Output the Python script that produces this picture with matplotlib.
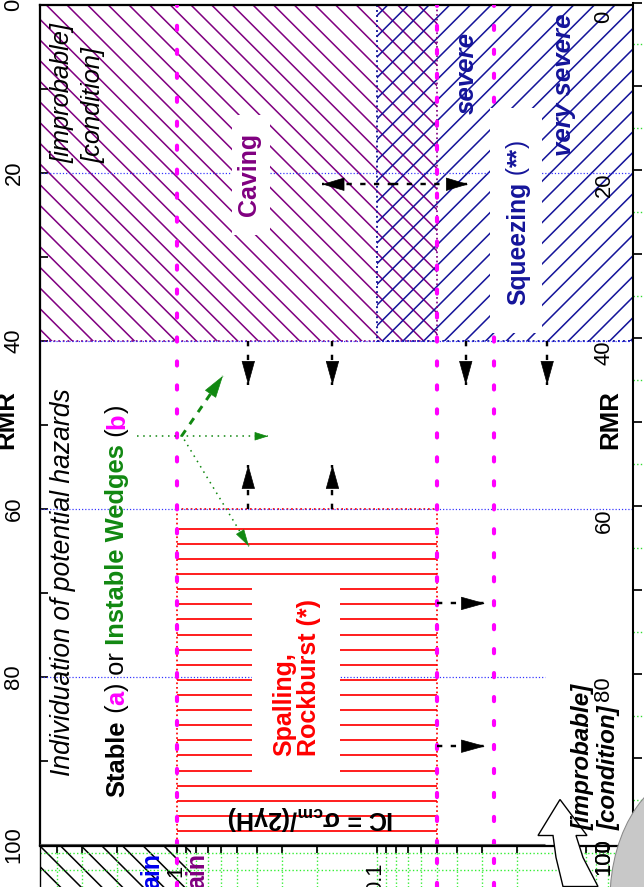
import numpy as np
import matplotlib
matplotlib.use("Agg")
from matplotlib import pyplot as plt
from matplotlib import transforms as mtrans
from matplotlib.patches import Rectangle, Ellipse, Polygon
from matplotlib.ticker import NullLocator

W, H = 644, 887
DPI = 124
FW, FH = W + 0.5, H + 0.5

# ---- values ----
rmr_major = [0, 20, 40, 60, 80, 100]
rmr_minor = [10, 30, 50, 70, 90]
ic_range = [4.84, 0.00525]          # IC = sigma_cm/(2 gamma H), log scale, decreasing to the right
ic_range_strip = [4.84, 0.00462]

caving_ic = [4.84, 0.05]
caving_rmr = [0, 40]
squeezing_ic = [0.1, 0.00525]
squeezing_rmr = [0, 40]
spalling_ic = [1.0, 0.05]
spalling_rmr = [60, 100]
limit_ic = [1.0, 0.05, 0.026]
grid_rmr = [20, 40, 60, 80]
grid_ic_end = [0.00525, 0.00525, 0.00525, 0.0145]

# black arrows (tail -> tip)
down_ic = [0.44, 0.167, 0.036, 0.0141]
down_rmr = [40, 45.3]
up_ic = [0.44, 0.167]
up_rmr = [60, 54.8]
right_rmr = [71.3, 88.3]
right_ic = [0.05, 0.0288]
both_rmr = 21.4
both_ic = [0.083, 0.188, 0.035]     # centre, left tip, right tip

# green arrows of the wedge label
green_tail = [(1.585, 51.4), (0.95, 51.4), (0.92, 51.8)]
green_tip = [(0.35, 51.4), (0.589, 44.2), (0.437, 64.5)]

plt.rcParams['font.family'] = ['Liberation Sans', 'DejaVu Sans']
plt.rcParams['hatch.linewidth'] = 0.9
plt.rcParams['mathtext.fontset'] = 'custom'
plt.rcParams['mathtext.rm'] = 'Liberation Sans:bold'
plt.rcParams['mathtext.it'] = 'Liberation Sans:bold'
plt.rcParams['mathtext.bf'] = 'Liberation Sans:bold'

PURPLE = '#800080'
NAVY = '#14149a'
MAGENTA = '#ff00ff'
GREEN = '#118811'


def fpos(x, y):
    # image pixel -> figure fraction
    return x / FW, 1 - y / FH


fig = plt.figure(figsize=(FW / DPI, FH / DPI), dpi=DPI)
renderer = fig.canvas.get_renderer()

ax = fig.add_axes([40 / FW, 1 - 845 / FH, 593 / FW, 840 / FH])
ax.set_xscale('log')
ax.set_xlim(ic_range)
ax.set_ylim(100, 0)
ax.xaxis.set_major_locator(NullLocator())
ax.xaxis.set_minor_locator(NullLocator())
ax.set_yticks(rmr_major)
ax.set_yticklabels([str(v) for v in rmr_major], rotation=90, va='center')
ax.set_yticks(rmr_minor, minor=True)
ax.tick_params(axis='y', which='both', direction='in', length=4.6, width=1,
               pad=9, labelsize=12.8)
for side in ['left', 'top']:
    ax.spines[side].set_linewidth(1.3)
ax.spines['right'].set_linewidth(1.0)
ax.spines['bottom'].set_visible(False)


def zone(a, ic, rmr, **kw):
    a.add_patch(Rectangle((min(ic), min(rmr)), max(ic) - min(ic), max(rmr) - min(rmr), **kw))


def outline(a, ic, rmr, sides, **kw):
    pts = {'top': ([ic[0], ic[1]], [rmr[0], rmr[0]]),
           'bottom': ([ic[0], ic[1]], [rmr[1], rmr[1]]),
           'left': ([ic[0], ic[0]], [rmr[0], rmr[1]]),
           'right': ([ic[1], ic[1]], [rmr[0], rmr[1]])}
    for s in sides:
        a.plot(*pts[s], **kw)


# hatched zones
zone(ax, caving_ic, caving_rmr, facecolor='none', edgecolor=PURPLE, hatch='\\\\', linewidth=0, zorder=1)
zone(ax, squeezing_ic, squeezing_rmr, facecolor='none', edgecolor=NAVY, hatch='//', linewidth=0, zorder=1)
outline(ax, caving_ic, caving_rmr, ['top', 'bottom', 'left', 'right'], color=PURPLE, ls=':', lw=1, zorder=2)
outline(ax, squeezing_ic, squeezing_rmr, ['top', 'bottom', 'left'], color=NAVY, ls=':', lw=1.1, zorder=2)

red_rows = np.arange(spalling_rmr[0] + 2.4, spalling_rmr[1] + 0.5, 1.8)
ax.hlines(red_rows, spalling_ic[0], spalling_ic[1], color='red', lw=1.0, zorder=1)
outline(ax, spalling_ic, spalling_rmr, ['top', 'left', 'right'], color='red', ls=':', lw=1, zorder=2)

for r, e in zip(grid_rmr, grid_ic_end):
    ax.plot([ic_range[0], e], [r, r], color='#3030ff', ls=':', lw=0.7, zorder=2)

for v in limit_ic:
    ax.axvline(v, color=MAGENTA, lw=2.4, dashes=(1.0, 4.8), dash_capstyle='round', zorder=3)

ax.hlines(100, ic_range[0], grid_ic_end[-1], color='#666666', lw=1.8, clip_on=False, zorder=3)


def arrow(a, tail, tip, color, lw, dashes, hl, hw):
    a.plot([tail[0], tip[0]], [tail[1], tip[1]], color=color, lw=lw, dashes=dashes, zorder=6)
    p0 = a.transData.transform(tail)
    p1 = a.transData.transform(tip)
    d = (p1 - p0) / np.hypot(*(p1 - p0))
    a.annotate('', xy=tip, xytext=(-d[0] * hl, -d[1] * hl), textcoords='offset points',
               arrowprops=dict(arrowstyle=f'-|>,head_length={hl},head_width={hw}',
                               color=color, lw=0.4, shrinkA=0, shrinkB=0, mutation_scale=1),
               zorder=7)


for ic in down_ic:
    arrow(ax, (ic, down_rmr[0]), (ic, down_rmr[1]), 'black', 1.4, (2.2, 3.5), 13, 3.6)
for ic in up_ic:
    arrow(ax, (ic, up_rmr[0]), (ic, up_rmr[1]), 'black', 1.4, (2.2, 3.5), 13, 3.6)
for r in right_rmr:
    arrow(ax, (right_ic[0], r), (right_ic[1], r), 'black', 1.4, (2.2, 3.5), 13, 3.6)
arrow(ax, (both_ic[0], both_rmr), (both_ic[1], both_rmr), 'black', 1.4, (2.2, 3.5), 12, 3.6)
arrow(ax, (both_ic[0], both_rmr), (both_ic[2], both_rmr), 'black', 1.4, (2.2, 3.5), 12, 3.6)

arrow(ax, green_tail[0], green_tip[0], GREEN, 0.9, (1, 3), 7, 2.2)
arrow(ax, green_tail[1], green_tip[1], GREEN, 1.7, (2.5, 2.5), 12, 3.6)
arrow(ax, green_tail[2], green_tip[2], GREEN, 0.9, (1, 3), 9, 2.5)


def white_box(x0, y0, x1, y1):
    ax.add_patch(Rectangle(fpos(x0, y1), (x1 - x0) / FW, (y1 - y0) / FH, transform=fig.transFigure,
                           facecolor='white', edgecolor='none', zorder=4))


def rich(x, y0, pieces, size, zorder=5):
    # pieces of rotated text, laid end to end going up
    off = 0.0
    base = fig.transFigure
    for s, color, weight in pieces:
        tr = mtrans.offset_copy(base, fig=fig, x=0, y=off, units='dots')
        t = fig.text(*fpos(x, y0), s, rotation=90, ha='center', va='bottom', color=color,
                     fontsize=size, fontweight=weight, transform=tr, zorder=zorder)
        off += t.get_window_extent(renderer).height


white_box(232, 115, 270, 235)
white_box(490, 108, 542, 333)
white_box(252, 580, 340, 775)

fig.text(*fpos(249, 174), 'Caving', rotation=90, ha='center', va='center', color=PURPLE,
         fontsize=14.5, fontweight='bold', zorder=5)
rich(518, 305, [('Squeezing', NAVY, 'bold'), (' (', NAVY, 'normal'), ('**', NAVY, 'bold'),
                (')', NAVY, 'normal')], 14.3)
fig.text(*fpos(467, 73), 'severe', rotation=90, ha='center', va='center', color=NAVY,
         fontsize=15, fontweight='bold', fontstyle='italic', zorder=5)
fig.text(*fpos(564, 85), 'very severe', rotation=90, ha='center', va='center', color=NAVY,
         fontsize=15, fontweight='bold', fontstyle='italic', zorder=5)
fig.text(*fpos(297, 677), 'Spalling,\nRockburst (*)', rotation=90, ha='center', va='center',
         multialignment='left', color='red', fontsize=14.5, fontweight='bold', linespacing=1.05,
         zorder=5)
fig.text(*fpos(78, 163), '[improbable]\n[condition]', rotation=90, ha='center', va='bottom',
         multialignment='left', fontsize=14.8, fontstyle='italic', linespacing=1.4, zorder=5)
fig.text(*fpos(63, 582), 'Individuation of potential hazards', rotation=90, ha='center',
         va='center', fontsize=15.4, fontstyle='italic', zorder=5)
rich(117, 797, [('Stable', 'black', 'bold'), (' (', 'black', 'normal'), ('a', MAGENTA, 'bold'),
                (')', 'black', 'normal'), (' or', 'black', 'normal'),
                (' Instable Wedges', GREEN, 'bold'), (' (', 'black', 'normal'),
                ('b', MAGENTA, 'bold'), (')', 'black', 'normal')], 14.8)
fig.text(*fpos(311, 818), r'IC = $\sigma_{\mathrm{cm}}$/(2$\gamma$H)', rotation=180, ha='center',
         va='center', fontsize=14.5, fontweight='bold', zorder=5)
fig.text(*fpos(6, 420), 'RMR', rotation=90, ha='center', va='center', fontsize=15,
         fontweight='bold')
fig.text(*fpos(610, 420), 'RMR', rotation=90, ha='center', va='center', fontsize=15,
         fontweight='bold', zorder=5)

# right-hand panel labels (slightly shifted scale)
lab_tr = mtrans.blended_transform_factory(fig.transFigure, ax.transData) + \
    mtrans.ScaledTranslation(0, -12 / DPI, fig.dpi_scale_trans)
for v in rmr_major:
    fig.text(604 / FW, v, str(v), transform=lab_tr, rotation=90, ha='center', va='center',
             fontsize=12.8, zorder=5)

# right strip panel
axr = fig.add_axes([633 / FW, 1 - 845 / FH, 12 / FW, 842 / FH])
axr.set_ylim(100.3, 0)
axr.set_xlim(0, 1)
axr.set_xticks([])
axr.set_yticks(rmr_minor + rmr_major)
axr.set_yticks(np.arange(5, 100, 10), minor=True)
axr.tick_params(axis='y', which='major', direction='in', length=5, width=1, labelleft=False)
axr.tick_params(axis='y', which='minor', length=0, labelleft=False)
axr.grid(True, which='minor', axis='y', color='#33dd33', ls=':', lw=0.8)
for side in ['top', 'right', 'bottom']:
    axr.spines[side].set_visible(False)
axr.spines['left'].set_linewidth(1.2)

# bottom strip panel
axb = fig.add_axes([40 / FW, 0, 604 / FW, 41 / FH])
axb.set_xscale('log')
axb.set_xlim(ic_range_strip)
axb.set_ylim(0, 2.4)
axb.set_yticks([1, 2])
axb.xaxis.tick_top()
axb.tick_params(axis='x', which='both', direction='in', length=4, width=1, labeltop=False)
axb.tick_params(axis='y', left=False, labelleft=False)
axb.grid(True, which='both', color='#33ee33', ls=':', lw=0.8)
axb.spines['top'].set_linewidth(1.3)
axb.spines['right'].set_visible(False)
axb.spines['bottom'].set_visible(False)
zone(axb, [ic_range_strip[0], 0.85], [0, 2.4], facecolor='none', edgecolor='black', hatch='\\\\',
     linewidth=0, zorder=1)
for v in limit_ic:
    axb.axvline(v, color=MAGENTA, lw=2.4, dashes=(1.0, 4.8), dash_capstyle='round', zorder=3)
fig.text(*fpos(176, 871), '1', rotation=90, ha='center', va='center', fontsize=12.8)
fig.text(*fpos(376, 878), '0.1', rotation=90, ha='center', va='center', fontsize=12.8)
fig.text(*fpos(152, 853), 'ain', rotation=90, ha='center', va='top', fontsize=14.5,
         fontweight='bold', color='#0000ee')
fig.text(*fpos(197, 853), 'ain', rotation=90, ha='center', va='top', fontsize=14.5,
         fontweight='bold', color=PURPLE)

# overlapping figure pieces in the lower right corner
fig.add_artist(Ellipse(fpos(700, 900), 180 / FW, 260 / FH, transform=fig.transFigure,
                       facecolor='#c8c8c8', edgecolor='#888888', lw=0.6, zorder=1))
arrow_px = [(560, 800), (587, 836), (576, 836), (583, 858), (598, 887), (563, 887),
            (556, 858), (553, 836), (538, 836)]
fig.add_artist(Polygon([fpos(x, y) for x, y in arrow_px], closed=True, transform=fig.transFigure,
                       facecolor='white', edgecolor='black', lw=0.8, zorder=2))
fig.text(*fpos(596, 830), '[improbable]\n[condition]', rotation=90, ha='center', va='bottom',
         multialignment='left', fontsize=14, fontstyle='italic', fontweight='bold',
         linespacing=1.2, zorder=3)
fig.text(*fpos(604, 857), '100', rotation=90, ha='center', va='center', fontsize=12.8, zorder=3)

fig.savefig('out.png', dpi=DPI, facecolor='white')
